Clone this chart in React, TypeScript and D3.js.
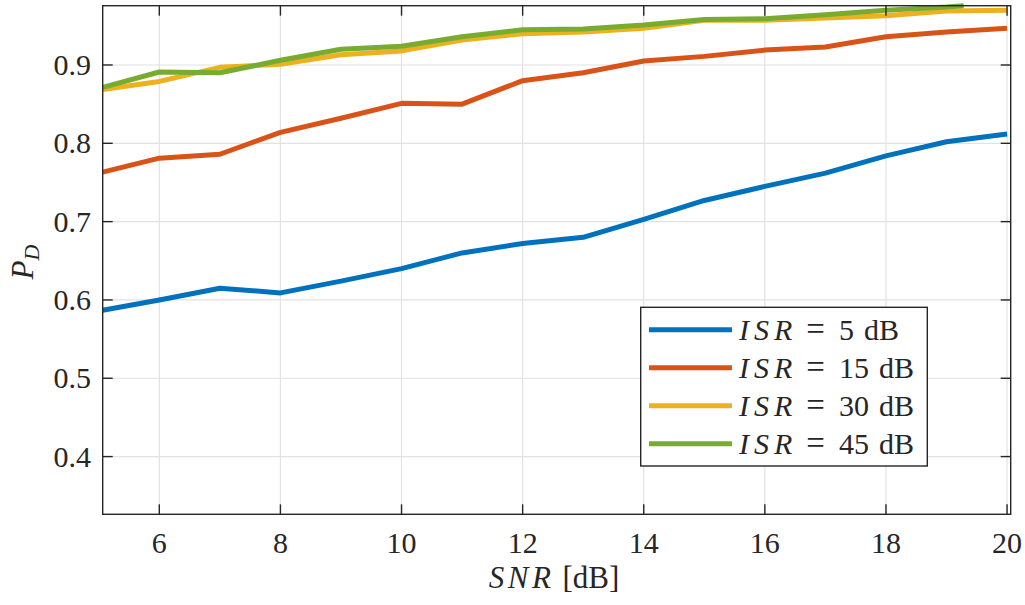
import React from "react";
import * as d3 from "d3";

// SNR sweep (dB) and detection probability for each interference-to-signal ratio
const snr = [5, 6, 7, 8, 9, 10, 11, 12, 13, 14, 15, 16, 17, 18, 19, 20];
const pdIsr5 = [0.586, 0.6, 0.615, 0.609, 0.624, 0.64, 0.66, 0.672, 0.68, 0.703, 0.727, 0.745, 0.762, 0.784, 0.802, 0.812];
const pdIsr15 = [0.762, 0.781, 0.786, 0.814, 0.832, 0.851, 0.85, 0.88, 0.89, 0.905, 0.911, 0.919, 0.923, 0.936, 0.942, 0.947];
const pdIsr30 = [0.868, 0.879, 0.897, 0.901, 0.913, 0.918, 0.932, 0.94, 0.942, 0.947, 0.957, 0.957, 0.96, 0.963, 0.969, 0.97];
const pdIsr45 = [0.87, 0.891, 0.89, 0.906, 0.92, 0.924, 0.936, 0.945, 0.946, 0.951, 0.958, 0.959, 0.964, 0.97, 0.974, 0.98];

const seriesLabels = ["5", "15", "30", "45"];
const seriesColors = ["#0072BD", "#D95319", "#EDB120", "#77AC30"];
const seriesValues = [pdIsr5, pdIsr15, pdIsr30, pdIsr45];

const xTicks = [6, 8, 10, 12, 14, 16, 18, 20];
const yTicks = [0.4, 0.5, 0.6, 0.7, 0.8, 0.9];

const W = 1025;
const H = 605;
const plot = { left: 102.7, right: 1010.7, top: 5.7, bottom: 514.3 };
const xDomain: [number, number] = [5.065, 20.06];
const yDomain: [number, number] = [0.3263, 0.9757];

const FONT = "'Liberation Serif', 'Times New Roman', serif";
const AXIS_COLOR = "#262626";
const GRID_COLOR = "#e2e2e2";

type Pt = [number, number];

// Clip a polyline to the axes limits in data space (Liang–Barsky per segment),
// returning one or more pieces that stay inside the limits.
function clipPolyline(pts: Pt[], x0: number, x1: number, y0: number, y1: number): Pt[][] {
  const pieces: Pt[][] = [];
  let cur: Pt[] = [];
  for (let i = 0; i < pts.length - 1; i++) {
    const [ax, ay] = pts[i];
    const [bx, by] = pts[i + 1];
    const dx = bx - ax;
    const dy = by - ay;
    let t0 = 0;
    let t1 = 1;
    const p = [-dx, dx, -dy, dy];
    const q = [ax - x0, x1 - ax, ay - y0, y1 - ay];
    let ok = true;
    for (let k = 0; k < 4; k++) {
      if (p[k] === 0) {
        if (q[k] < 0) ok = false;
      } else {
        const r = q[k] / p[k];
        if (p[k] < 0) t0 = Math.max(t0, r);
        else t1 = Math.min(t1, r);
      }
    }
    if (!ok || t0 > t1) {
      if (cur.length) pieces.push(cur);
      cur = [];
      continue;
    }
    const s: Pt = [ax + t0 * dx, ay + t0 * dy];
    const e: Pt = [ax + t1 * dx, ay + t1 * dy];
    if (cur.length === 0 || t0 > 0) {
      if (cur.length) pieces.push(cur);
      cur = [s];
    }
    cur.push(e);
    if (t1 < 1) {
      pieces.push(cur);
      cur = [];
    }
  }
  if (cur.length) pieces.push(cur);
  return pieces;
}

export default function App() {
  const x = d3.scaleLinear().domain(xDomain).range([plot.left, plot.right]);
  const y = d3.scaleLinear().domain(yDomain).range([plot.bottom, plot.top]);
  const line = d3
    .line<Pt>()
    .x((d) => x(d[0]))
    .y((d) => y(d[1]));

  const tickLen = 10;
  const legend = { left: 640.7, top: 307.3, right: 927.3, bottom: 466 };
  const rowGap = 38;
  const firstRow = 329.7;

  return (
    <svg
      width={W}
      height={H}
      style={{ position: "absolute", left: 0, top: 0, background: "#fff" }}
      fontFamily={FONT}
    >
      <rect x={0} y={0} width={W} height={H} fill="#fff" />

      {/* grid */}
      {xTicks.map((t) => (
        <line key={`gx${t}`} x1={x(t)} x2={x(t)} y1={plot.top} y2={plot.bottom} stroke={GRID_COLOR} strokeWidth={1.2} />
      ))}
      {yTicks.map((t) => (
        <line key={`gy${t}`} x1={plot.left} x2={plot.right} y1={y(t)} y2={y(t)} stroke={GRID_COLOR} strokeWidth={1.2} />
      ))}

      {/* data lines */}
      {seriesValues.map((vals, si) => {
        const pts: Pt[] = snr.map((s, i) => [s, vals[i]]);
        const pieces = clipPolyline(pts, xDomain[0], xDomain[1], yDomain[0], yDomain[1]);
        return pieces.map((pc, pi) => (
          <path
            key={`s${si}-${pi}`}
            d={line(pc) || ""}
            fill="none"
            stroke={seriesColors[si]}
            strokeWidth={5}
            strokeLinejoin="round"
            strokeLinecap="butt"
          />
        ));
      })}

      {/* axes box */}
      <rect
        x={plot.left}
        y={plot.top}
        width={plot.right - plot.left}
        height={plot.bottom - plot.top}
        fill="none"
        stroke={AXIS_COLOR}
        strokeWidth={1.4}
      />

      {/* ticks */}
      {xTicks.map((t) => (
        <g key={`tx${t}`} stroke={AXIS_COLOR} strokeWidth={1.4}>
          <line x1={x(t)} x2={x(t)} y1={plot.bottom} y2={plot.bottom - tickLen} />
          <line x1={x(t)} x2={x(t)} y1={plot.top} y2={plot.top + tickLen} />
        </g>
      ))}
      {yTicks.map((t) => (
        <g key={`ty${t}`} stroke={AXIS_COLOR} strokeWidth={1.4}>
          <line x1={plot.left} x2={plot.left + tickLen} y1={y(t)} y2={y(t)} />
          <line x1={plot.right} x2={plot.right - tickLen} y1={y(t)} y2={y(t)} />
        </g>
      ))}

      {/* tick labels */}
      {xTicks.map((t) => (
        <text key={`lx${t}`} x={x(t)} y={553} textAnchor="middle" fontSize={30} fill={AXIS_COLOR}>
          {t}
        </text>
      ))}
      {yTicks.map((t) => (
        <text key={`ly${t}`} x={91} y={y(t) + 10} textAnchor="end" fontSize={30} fill={AXIS_COLOR}>
          {d3.format(".1f")(t)}
        </text>
      ))}

      {/* axis titles */}
      <text x={554} y={588} textAnchor="middle" fontSize={31} fill={AXIS_COLOR}>
        <tspan fontStyle="italic" letterSpacing={3.5}>SNR</tspan>
        <tspan dx={8}>[dB]</tspan>
      </text>
      <text
        transform={`translate(33, 262) rotate(-90)`}
        textAnchor="middle"
        fontSize={31}
        fill={AXIS_COLOR}
      >
        <tspan fontStyle="italic">P</tspan>
        <tspan fontStyle="italic" fontSize={22} dy={6}>D</tspan>
      </text>

      {/* legend */}
      <rect
        x={legend.left}
        y={legend.top}
        width={legend.right - legend.left}
        height={legend.bottom - legend.top}
        fill="#fff"
        stroke={AXIS_COLOR}
        strokeWidth={1.4}
      />
      {seriesLabels.map((lab, i) => {
        const ry = firstRow + i * rowGap;
        return (
          <g key={`lg${i}`}>
            <line x1={649} x2={732} y1={ry} y2={ry} stroke={seriesColors[i]} strokeWidth={5} />
            <text x={739} y={ry + 10} fontSize={30} fill={AXIS_COLOR}>
              <tspan fontStyle="italic" letterSpacing={5}>ISR</tspan>
              <tspan dx={9} fontSize={33}>=</tspan>
              <tspan dx={14}>{lab}</tspan>
              <tspan dx={10}>dB</tspan>
            </text>
          </g>
        );
      })}
    </svg>
  );
}
